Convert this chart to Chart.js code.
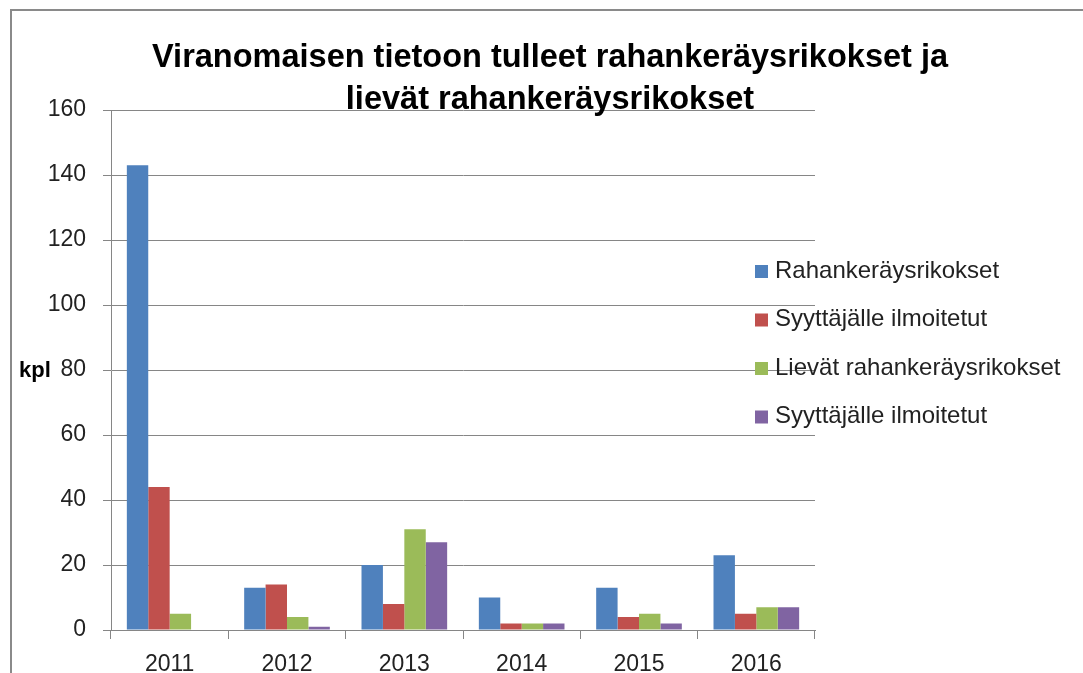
<!DOCTYPE html>
<html>
<head>
<meta charset="utf-8">
<script src="https://cdn.jsdelivr.net/npm/chart.js@4.4.0/dist/chart.umd.min.js"></script>
<style>
  html, body { margin: 0; padding: 0; background: #fff; }
  #wrap { position: relative; width: 1083px; height: 673px; overflow: hidden; }
  #frame { position: absolute; left: 10px; top: 9px; right: -5px; bottom: -5px;
           border-left: 2px solid #8a8a8a; border-top: 2px solid #8a8a8a; }
  canvas { position: absolute; left: 0; top: 0; }
</style>
</head>
<body>
<div id="wrap">
  <div id="frame"></div>
  <canvas id="chart" width="1083" height="673"></canvas>
</div>
<script>
// data
const years = ['2011', '2012', '2013', '2014', '2015', '2016'];
const rahankeraysrikokset = [143, 13, 20, 10, 13, 23];
const syyttajalleIlmoitetut = [44, 14, 8, 2, 4, 5];
const lievatRikokset = [5, 4, 31, 2, 5, 7];
const lievatIlmoitetut = [0, 1, 27, 2, 2, 7];
const seriesNames = ['Rahankeräysrikokset', 'Syyttäjälle ilmoitetut', 'Lievät rahankeräysrikokset', 'Syyttäjälle ilmoitetut'];
const titleLines = ['Viranomaisen tietoon tulleet rahankeräysrikokset ja', 'lievät rahankeräysrikokset'];
const yAxisLabel = 'kpl';
const yMax = 160, yStep = 20;

const colors = ['#4F81BD', '#C0504D', '#9BBB59', '#8064A2'];
const FONT = '"Liberation Sans", Arial, sans-serif';
const GRID = '#868686';

// title, "kpl" label and the legend sit on top of the plot like in the original
const decor = {
  id: 'decor',
  afterDraw(chart) {
    const ctx = chart.ctx;
    ctx.save();
    ctx.fillStyle = '#000';
    ctx.textAlign = 'center';
    ctx.textBaseline = 'middle';
    ctx.font = 'bold 32.5px ' + FONT;
    ctx.fillText(titleLines[0], 550, 58);
    ctx.fillText(titleLines[1], 550, 100);

    ctx.textAlign = 'left';
    ctx.font = 'bold 22px ' + FONT;
    ctx.fillText(yAxisLabel, 19, 371);

    ctx.font = '24px ' + FONT;
    chart.data.datasets.forEach((ds, i) => {
      const y = 271 + i * 48.5;
      ctx.fillStyle = ds.backgroundColor;
      ctx.fillRect(755, y - 6, 13, 13);
      ctx.fillStyle = '#222';
      ctx.fillText(ds.label, 775, y);
    });
    ctx.restore();
  }
};

new Chart(document.getElementById('chart'), {
  type: 'bar',
  data: {
    labels: years,
    datasets: [
      { label: seriesNames[0], data: rahankeraysrikokset, backgroundColor: colors[0] },
      { label: seriesNames[1], data: syyttajalleIlmoitetut, backgroundColor: colors[1] },
      { label: seriesNames[2], data: lievatRikokset, backgroundColor: colors[2] },
      { label: seriesNames[3], data: lievatIlmoitetut, backgroundColor: colors[3] }
    ]
  },
  options: {
    responsive: false,
    animation: false,
    layout: { padding: { left: 0, right: 268, top: 110, bottom: 0 } },
    datasets: { bar: { categoryPercentage: 0.73, barPercentage: 1, borderWidth: 0 } },
    plugins: {
      legend: { display: false },
      title: { display: false },
      tooltip: { enabled: false }
    },
    scales: {
      x: {
        offset: true,
        grid: { display: true, drawOnChartArea: false, offset: true, tickLength: 9, color: GRID },
        border: { color: GRID, width: 1 },
        ticks: { font: { family: FONT, size: 23 }, color: '#222', padding: 12 },
        afterFit: s => { s.height = 43; }
      },
      y: {
        min: 0,
        max: yMax,
        ticks: { stepSize: yStep, font: { family: FONT, size: 23 }, color: '#222', padding: 17 },
        grid: { color: GRID, tickLength: 8 },
        border: { color: GRID, width: 1 },
        afterFit: s => { s.width = 111; }
      }
    }
  },
  plugins: [decor]
});
</script>
</body>
</html>
